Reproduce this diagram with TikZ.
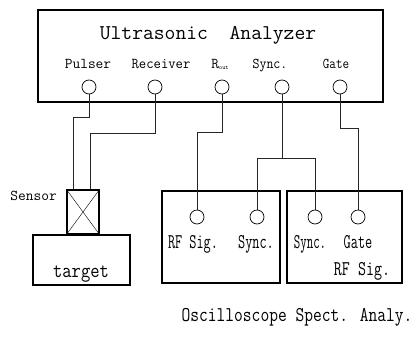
\documentclass[tikz,border=0pt]{standalone}
\usepackage{fontspec}
\usepackage{graphicx}
\usetikzlibrary{positioning,calc}
\newcommand{\cond}[2]{\scalebox{#1}[1]{#2}}
\tikzset{
  wire/.style ={line width=0.8pt,black!85},
  unit/.style ={draw,line width=1.1pt,inner sep=0pt},
  jack/.style ={circle,draw,line width=0.7pt,minimum size=14pt,inner sep=0pt},
  txt/.style  ={inner sep=0pt,anchor=base,font=\ttfamily\fontsize{#1}{#1}\selectfont},
  lbl/.style  ={txt=15},
  blbl/.style ={txt=21},
}

\begin{document}
\begin{tikzpicture}[x=1pt,y=-1pt]
\useasboundingbox (0,0) rectangle (419,337);
% analyzer
\node[unit,minimum width=345pt,minimum height=92pt] (ua) at (210.5,56) {};
\node[txt=21] (uatitle) at (208,39) {Ultrasonic~~Analyzer};
\node[jack] (pulser)   at (89,87)  {};
\node[jack] (receiver) at (155,87) {};
\node[jack] (rout)     at (222,87) {};
\node[jack] (sync)     at (282,87) {};
\node[jack] (gate)     at (340,87) {};
\node[lbl] (pulserlbl)   at (88,68)  {Pulser};
\node[lbl] (receiverlbl) at (161,68) {\cond{0.95}{Receiver}};
\node[lbl] (routlbl)     at (220,68) {R\raisebox{-1.5pt}{\fontsize{6}{6}\selectfont out}};
\node[lbl] (synclbl)     at (270,68) {\cond{0.9}{Sync.}};
\node[lbl] (gatelbl)     at (336,68) {\cond{0.85}{Gate}};
% sensor and target
\node[unit,minimum width=32pt,minimum height=44pt] (sensor) at (83,212) {};
\draw (sensor.north west) -- (sensor.south east) (sensor.north east) -- (sensor.south west);
\node[lbl,anchor=base east] (sensorlbl) at (57,200) {Sensor};
\node[unit,minimum width=97pt,minimum height=50pt] (target) at (81.5,260) {};
\node[blbl] (targetlbl) at (81,277) {\cond{0.86}{target}};
% oscilloscope
\node[unit,minimum width=118pt,minimum height=92pt] (osc) at (221,237) {};
\node[jack] (orf)   at (197,217) {};
\node[jack] (osync) at (257,217) {};
\node[blbl] (orflbl)   at (193,248) {\cond{0.66}{RF Sig.}};
\node[blbl] (osynclbl) at (256,248) {\cond{0.66}{Sync.}};
% spectrum analyzer
\node[unit,minimum width=115pt,minimum height=92pt] (spa) at (344.5,237) {};
\node[jack] (ssync) at (315,217) {};
\node[jack] (sgate) at (358,217) {};
\node[blbl] (ssynclbl) at (310,248) {\cond{0.6}{Sync.}};
\node[blbl] (sgatelbl) at (358,248) {\cond{0.66}{Gate}};
\node[blbl] (srflbl)   at (362,275) {\cond{0.74}{RF Sig.}};
\node[blbl] (bottomlbl) at (297,321) {\cond{0.81}{Oscilloscope Spect. Analy.}};
% wiring
\draw[wire] (pulser.south) -- ++(0,23) -| ([xshift=7pt]sensor.north west);
\draw[wire] (receiver.south) -- ++(0,39) -| ([xshift=-9pt]sensor.north east);
\draw[wire] (rout.south) -- ++(0,38) -| (orf.north);
\draw[wire] (sync.south) -- ++(0,64) coordinate (sj);
\draw[wire] (osync.north) |- (sj) -| (ssync.north);
\draw[wire] (gate.south) -- ++(0,34) -| (sgate.north);
\end{tikzpicture}
\end{document}
